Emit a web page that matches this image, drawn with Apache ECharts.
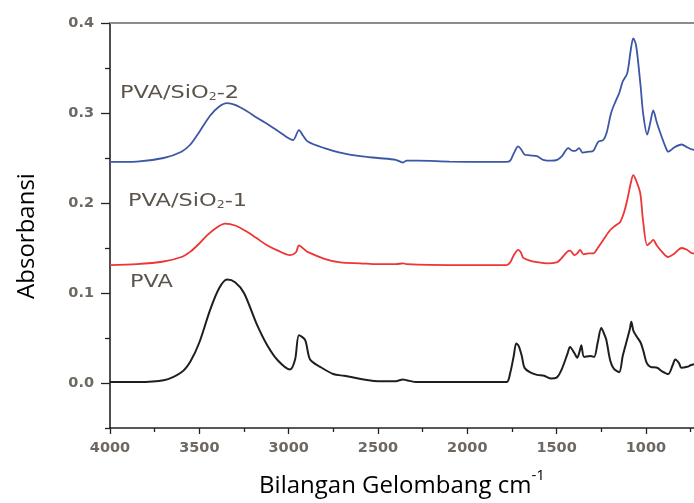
<!DOCTYPE html>
<html>
<head>
<meta charset="utf-8">
<script src="https://cdn.jsdelivr.net/npm/echarts@6/dist/echarts.min.js"></script>
<style>html,body{margin:0;padding:0;background:#fff;overflow:hidden}#c{width:694px;height:503px}</style>
</head>
<body>
<div id="c"></div>
<script>
// PVA (black)
const pvaWave = [4000,3850,3700,3600,3550,3500,3440,3390,3345,3300,3250,3180,3120,3060,2992,2964,2942,2908,2880,2824,2751,2690,2500,2400,2360,2340,2280,2100,1900,1780,1760,1740,1726,1712,1695,1680,1650,1610,1570,1530,1500,1474,1440,1425,1400,1385,1370,1362,1346,1310,1290,1270,1250,1235,1222,1200,1180,1150,1130,1110,1090,1082,1070,1050,1030,1015,995,975,937,910,875,850,836,815,802,770,747,730];
const pvaAbs  = [0.001,0.001,0.003,0.012,0.024,0.045,0.081,0.105,0.115,0.112,0.100,0.066,0.042,0.025,0.015,0.026,0.053,0.048,0.026,0.018,0.010,0.008,0.002,0.002,0.004,0.003,0.001,0.001,0.001,0.001,0.011,0.030,0.044,0.041,0.030,0.017,0.012,0.009,0.008,0.005,0.006,0.014,0.032,0.040,0.033,0.028,0.036,0.042,0.029,0.030,0.029,0.045,0.061,0.055,0.048,0.025,0.016,0.012,0.030,0.045,0.060,0.068,0.058,0.051,0.045,0.036,0.022,0.018,0.017,0.013,0.010,0.020,0.026,0.022,0.017,0.018,0.020,0.021];

// PVA/SiO2-1 (red)
const s1Wave = [4000,3850,3700,3600,3550,3500,3457,3400,3356,3300,3233,3180,3121,3060,2992,2960,2942,2910,2897,2800,2712,2600,2500,2400,2360,2340,2100,1900,1780,1760,1740,1715,1700,1687,1650,1600,1553,1500,1480,1440,1424,1400,1385,1368,1350,1320,1295,1270,1239,1200,1170,1144,1122,1105,1085,1071,1055,1032,1016,993,975,959,940,920,875,840,800,770,740,730];
const s1Abs  = [0.131,0.132,0.135,0.140,0.146,0.155,0.164,0.173,0.177,0.175,0.168,0.161,0.153,0.147,0.142,0.145,0.153,0.148,0.146,0.138,0.134,0.133,0.132,0.132,0.133,0.132,0.131,0.131,0.131,0.134,0.142,0.148,0.145,0.139,0.136,0.134,0.133,0.134,0.137,0.146,0.147,0.142,0.144,0.148,0.143,0.144,0.144,0.150,0.159,0.170,0.175,0.179,0.190,0.203,0.222,0.231,0.225,0.211,0.180,0.153,0.156,0.159,0.153,0.148,0.140,0.144,0.150,0.148,0.144,0.144];

// PVA/SiO2-2 (blue)
const s2Wave = [4000,3850,3700,3600,3550,3500,3440,3390,3345,3300,3233,3180,3121,3060,3000,2975,2942,2920,2891,2800,2712,2600,2500,2400,2360,2340,2280,2100,1900,1780,1760,1740,1715,1700,1680,1650,1610,1575,1530,1497,1470,1435,1410,1396,1374,1355,1320,1295,1267,1239,1220,1195,1170,1150,1130,1105,1085,1071,1055,1030,1016,993,975,959,940,920,890,875,840,800,770,750,730];
const s2Abs  = [0.2456,0.246,0.250,0.257,0.265,0.279,0.297,0.307,0.311,0.309,0.302,0.295,0.288,0.280,0.272,0.270,0.281,0.275,0.268,0.261,0.256,0.252,0.250,0.248,0.245,0.247,0.247,0.246,0.2456,0.2456,0.247,0.255,0.263,0.260,0.254,0.253,0.252,0.248,0.247,0.248,0.252,0.261,0.258,0.258,0.261,0.256,0.257,0.258,0.268,0.270,0.278,0.300,0.313,0.322,0.335,0.344,0.370,0.383,0.375,0.330,0.300,0.276,0.290,0.303,0.290,0.278,0.262,0.257,0.262,0.265,0.262,0.260,0.259];

const xTickLabels = [4000,3500,3000,2500,2000,1500,1000];
const xMinorTicks = [3750,3250,2750,2250,1750,1250,750];
const yTickLabels = [0.0,0.1,0.2,0.3,0.4];
const yMinorTicks = [-0.05,0.05,0.15,0.25,0.35];

const zip = (xs, ys) => xs.map((x, i) => [x, ys[i]]);

const chart = echarts.init(document.getElementById('c'), null, {renderer: 'canvas'});
const tickColor = '#6e6862';
const labelFont = {color: tickColor, fontFamily: 'DejaVu Sans', fontWeight: 'bold', fontSize: 14.5};
const X_MIN = 731, X_MAX = 4000, Y_MIN = -0.05, Y_MAX = 0.4;
const axisBase = {type: 'value', min: X_MIN, max: X_MAX, inverse: true, splitLine: {show: false}};
const yBase = {type: 'value', min: Y_MIN, max: Y_MAX, splitLine: {show: false}};

chart.setOption({
  animation: false,
  backgroundColor: '#fff',
  grid: {left: 110, top: 23, bottom: 75, right: 0},
  xAxis: [
    Object.assign({}, axisBase, {
      position: 'bottom',
      axisLine: {show: true, onZero: false, lineStyle: {color: '#222', width: 1.6}},
      axisTick: {show: true, length: 6, customValues: xTickLabels, lineStyle: {color: '#222', width: 1.3}},
      axisLabel: Object.assign({margin: 13, customValues: xTickLabels, formatter: v => String(v)}, labelFont)
    }),
    Object.assign({}, axisBase, {
      position: 'bottom',
      axisLine: {show: false, onZero: false},
      axisTick: {show: true, length: 4, customValues: xMinorTicks, lineStyle: {color: '#222', width: 1.3}},
      axisLabel: {show: false}
    }),
    Object.assign({}, axisBase, {
      position: 'top',
      axisLine: {show: true, onZero: false, lineStyle: {color: '#8c8c8c', width: 2.2}},
      axisTick: {show: false}, axisLabel: {show: false}
    })
  ],
  yAxis: [
    Object.assign({}, yBase, {
      position: 'left',
      axisLine: {show: true, onZero: false, lineStyle: {color: '#222', width: 1.6}},
      axisTick: {show: true, length: 9, customValues: yTickLabels, lineStyle: {color: '#222', width: 1.3}},
      axisLabel: Object.assign({margin: 16, customValues: yTickLabels, formatter: v => v.toFixed(1)}, labelFont)
    }),
    Object.assign({}, yBase, {
      position: 'left',
      axisLine: {show: false, onZero: false},
      axisTick: {show: true, length: 5, customValues: yMinorTicks, lineStyle: {color: '#222', width: 1.3}},
      axisLabel: {show: false}
    })
  ],
  series: [
    {name: 'PVA', type: 'line', data: zip(pvaWave, pvaAbs), showSymbol: false, smooth: 0.3,
     lineStyle: {color: '#1e1e1e', width: 2}},
    {name: 'PVA/SiO2-1', type: 'line', data: zip(s1Wave, s1Abs), showSymbol: false, smooth: 0.3,
     lineStyle: {color: '#ee3434', width: 1.8}},
    {name: 'PVA/SiO2-2', type: 'line', data: zip(s2Wave, s2Abs), showSymbol: false, smooth: 0.3,
     lineStyle: {color: '#3b57a5', width: 1.8}}
  ],
  graphic: [
    {type: 'text', x: 120, y: 80, scaleX: 1.25, style: {
      text: '{a|PVA/SiO}{s|2}{a|-2}', align: 'left', verticalAlign: 'top',
      rich: {a: {fontFamily: 'DejaVu Sans', fontSize: 18, fill: '#5c544a', verticalAlign: 'bottom', lineHeight: 22},
             s: {fontFamily: 'DejaVu Sans', fontSize: 10, fill: '#5c544a', verticalAlign: 'bottom', lineHeight: 16}}
    }},
    {type: 'text', x: 128, y: 188, scaleX: 1.25, style: {
      text: '{a|PVA/SiO}{s|2}{a|-1}', align: 'left', verticalAlign: 'top',
      rich: {a: {fontFamily: 'DejaVu Sans', fontSize: 18, fill: '#5c544a', verticalAlign: 'bottom', lineHeight: 22},
             s: {fontFamily: 'DejaVu Sans', fontSize: 10, fill: '#5c544a', verticalAlign: 'bottom', lineHeight: 16}}
    }},
    {type: 'text', x: 130, y: 273, scaleX: 1.25, style: {
      text: 'PVA', align: 'left', verticalAlign: 'top',
      fontFamily: 'DejaVu Sans', fontSize: 18, fill: '#5c544a'
    }},
    {type: 'text', x: 27, y: 236, rotation: Math.PI / 2, style: {
      text: 'Absorbansi', fontFamily: 'Open Sans', fontSize: 24, fill: '#000',
      align: 'center', verticalAlign: 'middle'
    }},
    {type: 'text', x: 402, y: 483, style: {
      text: '{a|Bilangan Gelombang cm}{b|-1}',
      align: 'center', verticalAlign: 'middle',
      rich: {a: {fontFamily: 'Open Sans', fontSize: 24, fill: '#000', verticalAlign: 'bottom', lineHeight: 30},
             b: {fontFamily: 'Open Sans', fontSize: 15, fill: '#000', verticalAlign: 'top', lineHeight: 30}}
    }}
  ]
});
</script>
</body>
</html>
